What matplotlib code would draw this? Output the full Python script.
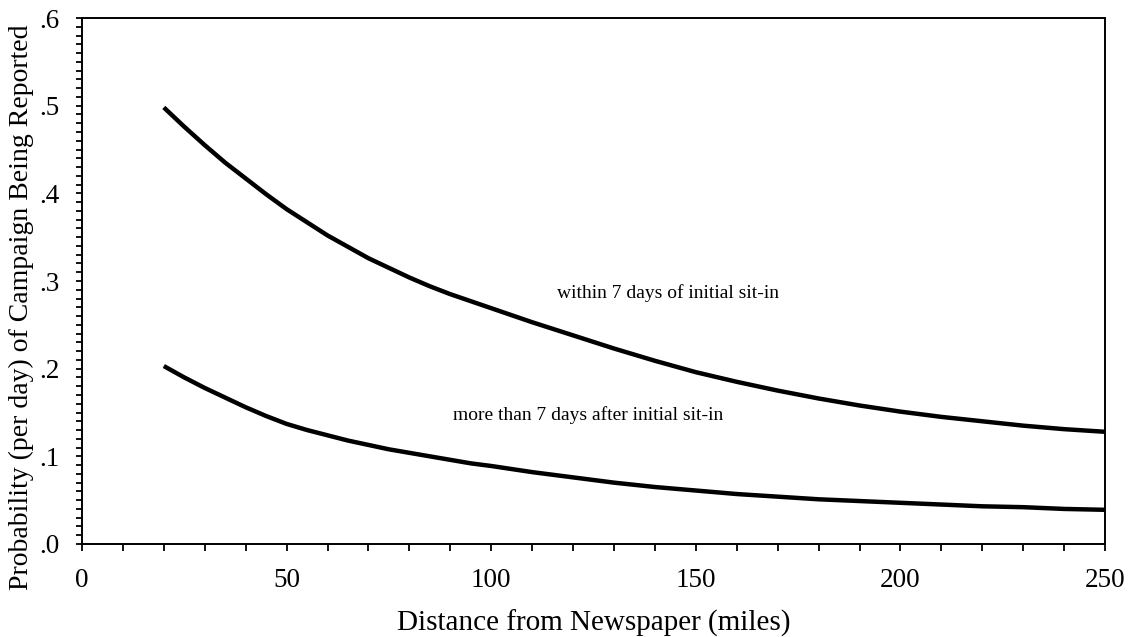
import numpy as np
import matplotlib.pyplot as plt
from matplotlib.ticker import MultipleLocator, FuncFormatter

plt.rcParams['font.family'] = ['Liberation Serif', 'DejaVu Serif']

# distance from newspaper (miles)
distance = [20, 25, 30, 35, 40, 45, 50, 55, 60, 65, 70, 75, 80, 85, 90, 95, 100,
            110, 120, 130, 140, 150, 160, 170, 180, 190, 200, 210, 220, 230, 240, 250]

# probability of being reported, within 7 days of initial sit-in
p_within = [0.498, 0.476, 0.455, 0.435, 0.417, 0.399, 0.382, 0.367, 0.352, 0.339,
            0.326, 0.315, 0.304, 0.294, 0.285, 0.277, 0.269,
            0.253, 0.238, 0.223, 0.209, 0.196, 0.185, 0.175, 0.166, 0.158,
            0.151, 0.145, 0.140, 0.135, 0.131, 0.128]

# more than 7 days after initial sit-in
p_after = [0.203, 0.190, 0.178, 0.167, 0.156, 0.146, 0.137, 0.130, 0.124, 0.118,
           0.113, 0.108, 0.104, 0.100, 0.096, 0.092, 0.089,
           0.082, 0.076, 0.070, 0.065, 0.061, 0.057, 0.054, 0.051, 0.049,
           0.047, 0.045, 0.043, 0.042, 0.040, 0.039]

fig = plt.figure(figsize=(11.29, 6.37), dpi=100)
ax = fig.add_axes([0.0726, 0.146, 0.9062, 0.8257])

ax.plot(distance, p_within, color='black', linewidth=3.2, solid_capstyle='butt',
        solid_joinstyle='round')
ax.plot(distance, p_after, color='black', linewidth=3.2, solid_capstyle='butt',
        solid_joinstyle='round')

ax.text(116, 0.286, 'within 7 days of initial sit-in', fontsize=14, va='center', ha='left')
ax.text(90.7, 0.147, 'more than 7 days after initial sit-in', fontsize=14, va='center', ha='left')

ax.set_xlim(0, 250)
ax.set_ylim(0, 0.6)
ax.xaxis.set_major_locator(MultipleLocator(50))
ax.xaxis.set_minor_locator(MultipleLocator(10))
ax.yaxis.set_major_locator(MultipleLocator(0.1))
ax.yaxis.set_minor_locator(MultipleLocator(0.01))
ax.yaxis.set_major_formatter(FuncFormatter(lambda v, p: ('%.1f' % v).lstrip('0')))

ax.tick_params(axis='both', which='both', direction='out', width=1.3, color='black')
ax.tick_params(axis='x', which='both', length=5, labelsize=19.5, pad=12)
ax.tick_params(axis='y', which='both', length=4, labelsize=19.5, pad=12)
ax.tick_params(top=False, right=False)

for s in ax.spines.values():
    s.set_linewidth(1.4)

ax.set_xlabel('Distance from Newspaper (miles)', fontsize=21, labelpad=12)
ax.set_ylabel('Probability (per day) of Campaign Being Reported', fontsize=20)
ax.yaxis.set_label_coords(-0.047, 0.45)

fig.savefig('out.png', dpi=100)
